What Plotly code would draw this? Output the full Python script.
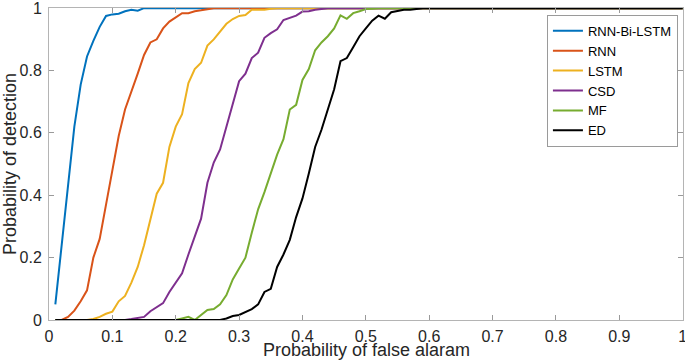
import plotly.graph_objects as go

# Probability of false alarm (x) and detection (y) per method
bilstm_x = [0.01, 0.02, 0.03, 0.04, 0.05, 0.06, 0.07, 0.08, 0.09, 0.10, 0.11, 0.12, 0.13, 0.14, 0.15, 0.16, 1.0]
bilstm_y = [0.05, 0.24, 0.43, 0.62, 0.755, 0.845, 0.895, 0.94, 0.975, 0.98, 0.982, 0.99, 0.995, 0.992, 1.0, 1.0, 1.0]

rnn_x = [0.01, 0.02, 0.03, 0.04, 0.05, 0.06, 0.07, 0.08, 0.09, 0.10, 0.11, 0.12, 0.13, 0.14, 0.15, 0.16,
         0.17, 0.18, 0.19, 0.20, 0.21, 0.22, 0.23, 0.24, 0.25, 0.26, 1.0]
rnn_y = [0.0, 0.0, 0.01, 0.03, 0.06, 0.095, 0.2, 0.26, 0.37, 0.48, 0.59, 0.675, 0.73, 0.79, 0.85, 0.89,
         0.9, 0.935, 0.957, 0.97, 0.984, 0.984, 0.99, 0.993, 0.997, 1.0, 1.0]

lstm_x = [0.01, 0.06, 0.07, 0.08, 0.09, 0.10, 0.11, 0.12, 0.13, 0.14, 0.15, 0.16, 0.17, 0.18, 0.19, 0.20,
          0.21, 0.22, 0.23, 0.24, 0.25, 0.26, 0.27, 0.28, 0.29, 0.30, 0.31, 0.32, 0.33, 0.34, 0.35, 0.36, 1.0]
lstm_y = [0.0, 0.0, 0.003, 0.01, 0.02, 0.027, 0.06, 0.077, 0.12, 0.17, 0.24, 0.32, 0.405, 0.44, 0.555, 0.62,
          0.66, 0.76, 0.805, 0.825, 0.88, 0.90, 0.925, 0.95, 0.965, 0.975, 0.978, 0.995, 0.995, 0.995, 0.998, 1.0, 1.0]

csd_x = [0.01, 0.12, 0.13, 0.14, 0.15, 0.16, 0.17, 0.18, 0.19, 0.20, 0.21, 0.22, 0.23, 0.24, 0.25, 0.26,
         0.27, 0.28, 0.29, 0.30, 0.31, 0.32, 0.33, 0.34, 0.35, 0.36, 0.37, 0.38, 0.39, 0.40, 0.41, 0.42,
         0.43, 0.44, 1.0]
csd_y = [0.0, 0.0, 0.003, 0.006, 0.01, 0.028, 0.04, 0.054, 0.09, 0.12, 0.15, 0.21, 0.27, 0.325, 0.44, 0.505,
         0.547, 0.62, 0.69, 0.766, 0.79, 0.84, 0.857, 0.905, 0.92, 0.932, 0.962, 0.97, 0.976, 0.989, 0.99, 0.995,
         0.997, 1.0, 1.0]

mf_x = [0.01, 0.20, 0.21, 0.22, 0.23, 0.24, 0.25, 0.26, 0.27, 0.28, 0.29, 0.30, 0.31, 0.32, 0.33, 0.34,
        0.35, 0.36, 0.37, 0.38, 0.39, 0.40, 0.41, 0.42, 0.43, 0.44, 0.45, 0.46, 0.47, 0.48, 0.49, 0.50,
        0.51, 0.52, 1.0]
mf_y = [0.0, 0.0, 0.005, 0.01, 0.0, 0.015, 0.032, 0.035, 0.05, 0.08, 0.13, 0.165, 0.2, 0.28, 0.355, 0.41,
        0.47, 0.53, 0.58, 0.675, 0.69, 0.77, 0.805, 0.865, 0.89, 0.91, 0.935, 0.977, 0.966, 0.984, 0.99, 0.997,
        0.998, 1.0, 1.0]

ed_x = [0.01, 0.27, 0.28, 0.29, 0.30, 0.31, 0.32, 0.33, 0.34, 0.35, 0.36, 0.37, 0.38, 0.39, 0.40, 0.41,
        0.42, 0.43, 0.44, 0.45, 0.46, 0.47, 0.48, 0.49, 0.50, 0.51, 0.52, 0.53, 0.54, 0.55, 0.56, 0.57,
        0.58, 0.59, 1.0]
ed_y = [0.0, 0.0, 0.005, 0.013, 0.016, 0.025, 0.035, 0.05, 0.09, 0.10, 0.17, 0.21, 0.257, 0.33, 0.39, 0.47,
        0.555, 0.61, 0.675, 0.74, 0.83, 0.84, 0.875, 0.91, 0.935, 0.96, 0.976, 0.966, 0.987, 0.99, 0.995, 0.995,
        0.998, 1.0, 1.0]

names = ["RNN-Bi-LSTM", "RNN", "LSTM", "CSD", "MF", "ED"]
colors = ["#0072BD", "#D95319", "#EDB120", "#7E2F8E", "#77AC30", "#000000"]
series = [(bilstm_x, bilstm_y), (rnn_x, rnn_y), (lstm_x, lstm_y),
          (csd_x, csd_y), (mf_x, mf_y), (ed_x, ed_y)]

x_ticks = [0, 0.1, 0.2, 0.3, 0.4, 0.5, 0.6, 0.7, 0.8, 0.9, 1]
x_tick_text = ["0", "0.1", "0.2", "0.3", "0.4", "0.5", "0.6", "0.7", "0.8", "0.9", "1"]
y_ticks = [0, 0.2, 0.4, 0.6, 0.8, 1]
y_tick_text = ["0", "0.2", "0.4", "0.6", "0.8", "1"]

FONT = "Liberation Sans, Arial, sans-serif"

fig = go.Figure()
for name, color, (xs, ys) in zip(names, colors, series):
    fig.add_trace(go.Scatter(x=xs, y=ys, mode="lines", name=name,
                             line=dict(color=color, width=2)))

axis_common = dict(
    showline=True, linecolor="#b4b4b4", linewidth=1, mirror="ticks",
    ticks="inside", ticklen=5, tickcolor="#9a9a9a", showgrid=False, zeroline=False,
    automargin=False, ticklabeloverflow="allow",
    tickfont=dict(family=FONT, size=16, color="#262626"),
)

fig.update_layout(
    width=685, height=361,
    margin=dict(l=49, r=2, t=8, b=41),
    paper_bgcolor="white", plot_bgcolor="white",
    font=dict(family=FONT, size=16, color="#262626"),
    xaxis=dict(range=[0, 1.0005], tickvals=x_ticks, ticktext=x_tick_text,
               ticklabelstandoff=2, **axis_common),
    yaxis=dict(range=[0, 1.0005], tickvals=y_ticks, ticktext=y_tick_text,
               ticklabelstandoff=3, **axis_common),
    legend=dict(x=0.992, y=0.978, xanchor="right", yanchor="top",
                bgcolor="white", bordercolor="#9a9a9a", borderwidth=1,
                font=dict(family=FONT, size=13, color="#000000"), tracegroupgap=0),
    showlegend=True,
    annotations=[
        dict(text="Probability of false alaram", xref="paper", yref="paper",
             x=0.5, y=0, yshift=-30, xanchor="center", yanchor="middle", showarrow=False,
             font=dict(family=FONT, size=18, color="#262626")),
        dict(text="Probability of detection", xref="paper", yref="paper",
             x=0, y=0.5, xshift=-39, xanchor="center", yanchor="middle", showarrow=False,
             textangle=-90, font=dict(family=FONT, size=18, color="#262626")),
    ],
)

fig.write_html("out.html", config={"displayModeBar": False},
               post_script="document.body.style.margin='0';")
